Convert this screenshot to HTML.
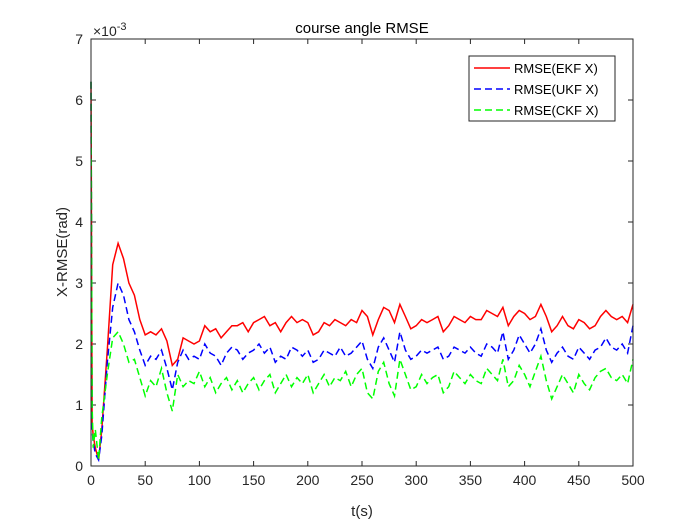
<!DOCTYPE html>
<html><head><meta charset="utf-8"><style>
body{margin:0;background:#fff;}
svg{display:block;font-family:"Liberation Sans",sans-serif;}
</style></head><body>
<svg id="chart" width="700" height="525" viewBox="0 0 700 525">
<rect width="700" height="525" fill="#fff"/>
<g id="grid"></g>
<g id="series"></g>
<rect x="91" y="39" width="542" height="427" fill="none" stroke="#262626" stroke-width="1"/>
<text x="362" y="33" text-anchor="middle" font-size="15" fill="#000">course angle RMSE</text>
<text x="93" y="36" font-size="14" fill="#262626">×10<tspan dy="-6" font-size="11">-3</tspan></text>
<text transform="translate(67,252) rotate(-90)" text-anchor="middle" font-size="15" fill="#262626">X-RMSE(rad)</text>
<text x="362" y="516" text-anchor="middle" font-size="15" fill="#262626">t(s)</text>
<g>
<rect x="469" y="56" width="146" height="65" fill="#fff" stroke="#262626" stroke-width="1"/>
<line x1="474" y1="68" x2="510" y2="68" stroke="#ff0000" stroke-width="1.5"/>
<text x="514" y="73" font-size="13">RMSE(EKF X)</text>
<line x1="474" y1="89" x2="510" y2="89" stroke="#0000ff" stroke-width="1.5" stroke-dasharray="7,4"/>
<text x="514" y="94" font-size="13">RMSE(UKF X)</text>
<line x1="474" y1="110" x2="510" y2="110" stroke="#00ff00" stroke-width="1.5" stroke-dasharray="7,4"/>
<text x="514" y="115" font-size="13">RMSE(CKF X)</text>
</g>
</svg>
<script>
const xTicks=[0,50,100,150,200,250,300,350,400,450,500];
const yTicks=[0,1,2,3,4,5,6,7];
const earlyTimes=[0,1,2,4,7,10,15];
const ekfValues=[6.3,0.7,0.5,0.3,0.1,0.6,1.9,
3.3,3.65,3.4,3.0,2.8,2.4,2.15,2.2,2.15,2.25,2.05,1.65,1.75,2.1,2.05,2.0,2.05,2.3,2.2,2.25,2.1,2.2,2.3,2.3,2.35,2.2,2.35,2.4,2.45,2.3,2.35,2.2,2.35,2.45,2.35,2.4,2.35,2.15,2.2,2.35,2.3,2.4,2.35,2.3,2.4,2.35,2.55,2.45,2.15,2.4,2.6,2.55,2.35,2.65,2.45,2.25,2.3,2.4,2.35,2.4,2.45,2.2,2.3,2.45,2.4,2.35,2.45,2.4,2.4,2.55,2.5,2.45,2.6,2.3,2.45,2.55,2.5,2.4,2.45,2.65,2.45,2.2,2.3,2.45,2.3,2.25,2.4,2.35,2.25,2.3,2.45,2.55,2.45,2.4,2.45,2.35,2.65];
const ukfValues=[6.3,0.6,0.4,0.2,0.1,0.5,1.7,
2.6,3.0,2.8,2.4,2.2,1.9,1.65,1.8,1.75,1.9,1.6,1.25,1.7,1.9,1.75,1.8,1.75,2.0,1.85,1.8,1.65,1.85,1.95,1.9,1.75,1.85,1.9,2.0,1.85,1.95,1.7,1.8,1.75,1.95,1.9,1.8,1.9,1.7,1.75,1.9,1.85,1.8,1.95,1.8,1.85,1.95,2.05,1.75,1.6,1.95,2.1,1.9,1.7,2.2,1.9,1.75,1.8,1.9,1.85,1.9,1.95,1.75,1.8,1.95,1.9,1.85,1.95,1.85,1.8,2.0,1.95,1.85,2.2,1.75,1.9,2.15,2.0,1.85,2.0,2.25,1.9,1.7,1.85,1.95,1.8,1.75,1.95,1.85,1.75,1.9,1.95,2.1,1.95,1.9,2.0,1.85,2.3];
const ckfValues=[6.3,1.0,0.3,0.6,0.1,0.8,1.5,
2.1,2.2,2.0,1.7,1.75,1.45,1.15,1.4,1.3,1.6,1.2,0.9,1.5,1.3,1.4,1.35,1.55,1.3,1.45,1.2,1.35,1.45,1.25,1.4,1.2,1.35,1.45,1.25,1.4,1.5,1.2,1.35,1.5,1.3,1.45,1.35,1.5,1.2,1.35,1.5,1.3,1.45,1.4,1.55,1.3,1.5,1.6,1.2,1.1,1.55,1.7,1.35,1.15,1.75,1.5,1.25,1.3,1.5,1.35,1.45,1.5,1.2,1.3,1.55,1.45,1.35,1.5,1.4,1.35,1.6,1.5,1.4,1.75,1.3,1.4,1.65,1.5,1.3,1.55,1.8,1.4,1.1,1.3,1.5,1.35,1.2,1.5,1.35,1.25,1.45,1.55,1.6,1.45,1.4,1.5,1.35,1.75];
const times=earlyTimes.slice();
for(let t=20;t<=500;t+=5)times.push(t);
const X0=91,X1=633,Y0=466,Y1=39;
const xs=v=>X0+(v-0)/(500-0)*(X1-X0);
const ys=v=>Y0-(v-0)/(7-0)*(Y0-Y1);
const NS='http://www.w3.org/2000/svg';
const grid=document.getElementById('grid');
xTicks.forEach(v=>{
 const l=document.createElementNS(NS,'line');
 
 
 l.setAttribute('x1',xs(v));l.setAttribute('x2',xs(v));l.setAttribute('y1',Y0);l.setAttribute('y2',Y0-5);
 l.setAttribute('stroke','#262626');grid.appendChild(l);
 const l2=document.createElementNS(NS,'line');
 
 
 l2.setAttribute('x1',xs(v));l2.setAttribute('x2',xs(v));l2.setAttribute('y1',Y1);l2.setAttribute('y2',Y1+5);
 l2.setAttribute('stroke','#262626');grid.appendChild(l2);
 const t=document.createElementNS(NS,'text');
 
 
 t.setAttribute('x',xs(v));t.setAttribute('y',Y0+19);t.setAttribute('text-anchor','middle');
 t.setAttribute('font-size','14');t.setAttribute('fill','#262626');t.textContent=v;grid.appendChild(t);
});
yTicks.forEach(v=>{
 const l=document.createElementNS(NS,'line');
 
 
 l.setAttribute('x1',X0);l.setAttribute('x2',X0+5);l.setAttribute('y1',ys(v));l.setAttribute('y2',ys(v));
 l.setAttribute('stroke','#262626');grid.appendChild(l);
 const l2=document.createElementNS(NS,'line');
 
 
 l2.setAttribute('x1',X1);l2.setAttribute('x2',X1-5);l2.setAttribute('y1',ys(v));l2.setAttribute('y2',ys(v));
 l2.setAttribute('stroke','#262626');grid.appendChild(l2);
 const t=document.createElementNS(NS,'text');
 
 
 t.setAttribute('x',X0-8);t.setAttribute('y',ys(v)+5);t.setAttribute('text-anchor','end');
 t.setAttribute('font-size','14');t.setAttribute('fill','#262626');t.textContent=v;grid.appendChild(t);
});
const sg=document.getElementById('series');
function draw(vals,color,dash,name){
 const n=Math.min(vals.length,times.length);
 let pts=[];for(let i=0;i<n;i++)pts.push(xs(times[i]).toFixed(1)+','+ys(vals[i]).toFixed(1));
 const p=document.createElementNS(NS,'polyline');
 
 
 p.setAttribute('points',pts.join(' '));p.setAttribute('fill','none');
 p.setAttribute('stroke',color);p.setAttribute('stroke-width','1.5');
 if(dash)p.setAttribute('stroke-dasharray',dash);
 sg.appendChild(p);
}
draw(ekfValues,'#ff0000',null,'ekf-line');
draw(ukfValues,'#0000ff','7,4','ukf-line');
draw(ckfValues,'#00ff00','7,4','ckf-line');
</script>
</body></html>
